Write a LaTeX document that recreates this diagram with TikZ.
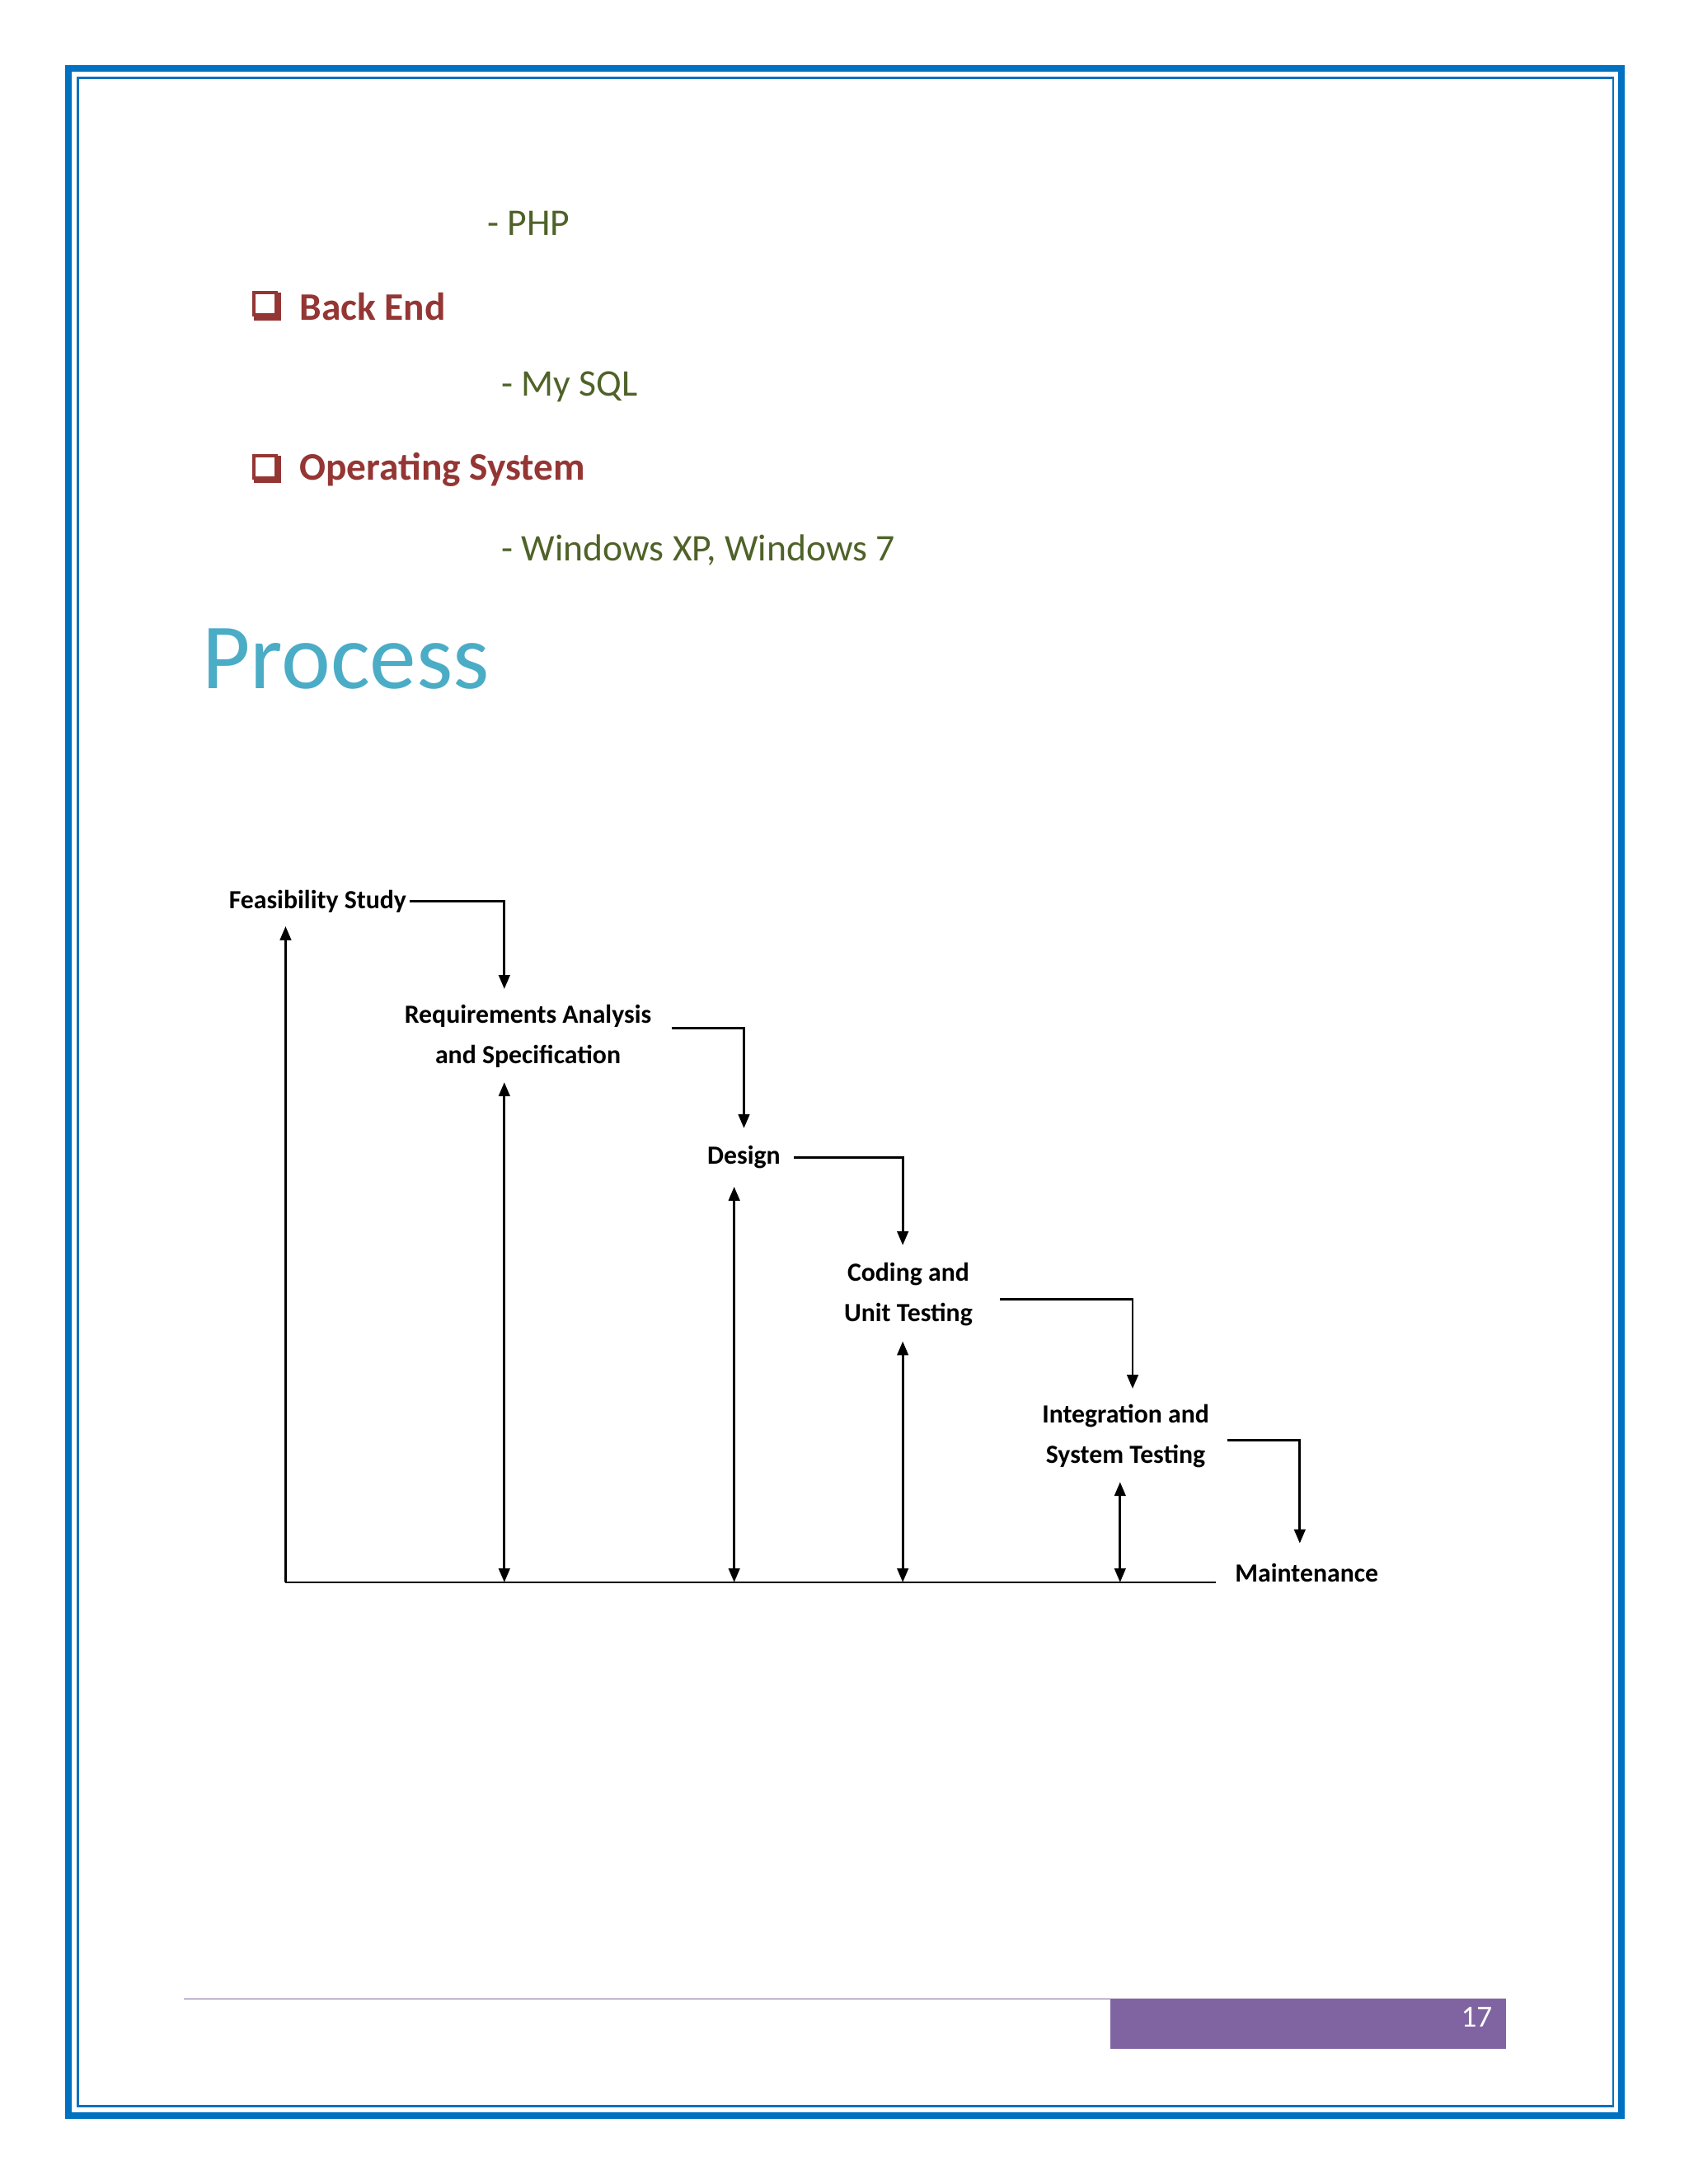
\documentclass[tikz,border=0pt]{standalone}
\usepackage{fontspec}
\setmainfont{Carlito}
\usetikzlibrary{arrows.meta}
\definecolor{frameblue}{HTML}{0070C0}
\definecolor{olivetext}{HTML}{4F6228}
\definecolor{headred}{HTML}{943634}
\definecolor{titleblue}{HTML}{4BACC6}
\definecolor{footpurple}{HTML}{8064A2}
\tikzset{
  item/.style={anchor=west,text=olivetext,font=\fontsize{13.5}{15}\selectfont},
  head/.style={anchor=west,text=headred,font=\fontsize{14}{16}\selectfont\bfseries},
  tick/.style={draw=headred,line width=1.2pt,minimum size=8pt,inner sep=0pt},
  stage/.style={align=center,font=\fontsize{9.4}{14.5}\selectfont\bfseries,inner sep=1pt},
  flow/.style={-{Triangle[length=5pt,width=4pt]},thick},
  both/.style={{Triangle[length=5pt,width=4pt]}-{Triangle[length=5pt,width=4pt]},thick},
}
\begin{document}
\begin{tikzpicture}[x=0.5pt,y=-0.5pt]
  \useasboundingbox (0,0) rectangle (1212,1568);
  % Page frame
  \draw[frameblue,line width=2.5pt] (49,49) rectangle (1164,1519);
  \draw[frameblue,line width=0.8pt] (56,56) rectangle (1158,1512);

  % List
  \node[item] (php) at (343,160) {- PHP};
  \node[tick] (box1) at (190,218) {};
  \draw[headred,line width=1.2pt] (box1.south west) ++(1.5,1.5) -| ([shift={(1.5,1.5)}]box1.north east);
  \node[head] (back) at (208,220) {Back End};
  \node[item] (sql) at (353,278) {- My SQL};
  \node[tick] (box2) at (190,335) {};
  \draw[headred,line width=1.2pt] (box2.south west) ++(1.5,1.5) -| ([shift={(1.5,1.5)}]box2.north east);
  \node[head] (os) at (208,337) {Operating System};
  \node[item] (win) at (353,395) {- Windows XP, Windows 7};
  \node[anchor=west,text=titleblue,font=\fontsize{33.5}{38}\selectfont] (title) at (138,473) {Process};

  % Steps
  \node[stage] (feas) at (228,647) {Feasibility Study};
  \node[stage] (req) at (379,744) {Requirements Analysis\\and Specification};
  \node[stage] (des) at (534,831) {Design};
  \node[stage] (code) at (652,929) {Coding and\\Unit Testing};
  \node[stage] (integ) at (808,1031) {Integration and\\System Testing};
  \node[stage] (maint) at (938,1129) {Maintenance};

  % Forward flow
  \draw[flow] (feas.east) -| (362,710);
  \draw[flow] (482,738) -| (534,810);
  \draw[flow] (570,831) -| (648,894);
  \draw[flow] (718,933) -| (813,997);
  \draw[flow] (881,1034) -| (933,1108);

  % Feedback
  \coordinate (base) at (873,1136);
  \draw[thick] (205,1136) -- (base);
  \draw[flow] (205,1136) -- (205,665);
  \draw[both] (362,777) -- (362,1136);
  \draw[both] (527,852) -- (527,1136);
  \draw[both] (648,963) -- (648,1136);
  \draw[both] (804,1064) -- (804,1136);

  % Footer
  \draw[footpurple] (132,1435) -- (1081,1435);
  \fill[footpurple] (797,1435) rectangle (1081,1471);
  \node[text=white,font=\fontsize{11}{13}\selectfont] (page) at (1060,1448) {17};
\end{tikzpicture}
\end{document}
